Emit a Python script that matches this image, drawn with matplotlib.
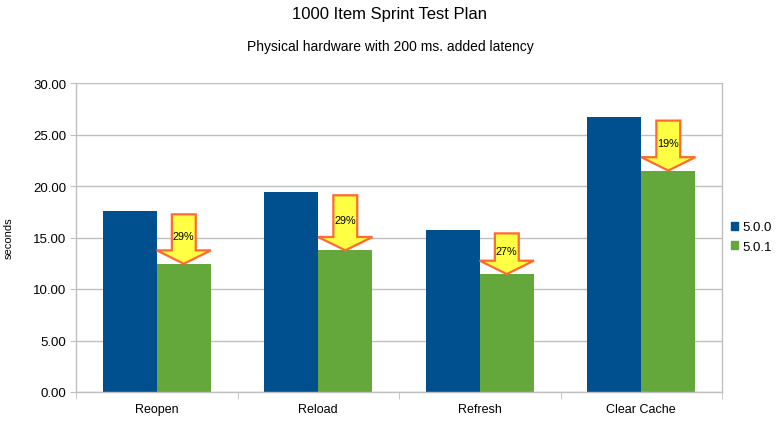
import matplotlib
matplotlib.use("Agg")
import matplotlib.pyplot as plt
from matplotlib.patches import Polygon, Patch
import numpy as np

categories = ["Reopen", "Reload", "Refresh", "Clear Cache"]
series_names = ["5.0.0", "5.0.1"]
v500 = [17.6, 19.45, 15.75, 26.7]
v501 = [12.45, 13.75, 11.45, 21.5]
pct_labels = ["29%", "29%", "27%", "19%"]
yticks = [0, 5, 10, 15, 20, 25, 30]

blue = "#004f8f"
green = "#64a83b"
grid = "#c0c0c0"

plt.rcParams['font.family'] = ['Liberation Sans', 'DejaVu Sans']

fig = plt.figure(figsize=(7.8, 4.27), dpi=100)
ax = fig.add_axes([76/780, 1-393/427, (722-76)/780, (393-84)/427])

x = np.arange(len(categories)) + 0.5
bw = 0.335
ax.bar(x - bw/2, v500, width=bw, color=blue, zorder=2, label=series_names[0])
ax.bar(x + bw/2, v501, width=bw, color=green, zorder=2, label=series_names[1])

# arrows
shaft_hw = 0.074
head_hw = 0.168
head_len = 1.3
for xi, top_v, tip_v, lab in zip(x, v500, v501, pct_labels):
    cx = xi + bw/2
    top = top_v - 0.35
    base = tip_v + head_len
    pts = [(cx - shaft_hw, top), (cx + shaft_hw, top), (cx + shaft_hw, base),
           (cx + head_hw, base), (cx, tip_v), (cx - head_hw, base),
           (cx - shaft_hw, base)]
    ax.add_patch(Polygon(pts, closed=True, facecolor="#ffff44",
                         edgecolor="#ff6a30", linewidth=1.6, zorder=3,
                         joinstyle="miter"))
    ax.text(cx, (top + base)/2 - 0.4, lab, ha="center", va="center",
            fontsize=7.8, color="black", zorder=4)

ax.set_xlim(0, len(categories))
ax.set_ylim(0, 30)
ax.set_yticks(yticks)
ax.set_yticklabels([f"{t:.2f}" for t in yticks], fontsize=9.5)
ax.set_xticks(x)
ax.set_xticklabels(categories, fontsize=9)
ax.set_xticks(np.arange(len(categories)+1), minor=True)
ax.tick_params(axis='x', which='major', length=0, pad=8)
ax.tick_params(axis='x', which='minor', length=5, color=grid, direction='out')
ax.tick_params(axis='y', length=4, color=grid, direction='out', pad=3)
ax.yaxis.grid(True, color=grid, linewidth=1, zorder=0)
ax.set_axisbelow(True)
for s in ['left', 'bottom', 'right']:
    ax.spines[s].set_color(grid)
    ax.spines[s].set_linewidth(1)
ax.spines['top'].set_visible(False)

ax.set_ylabel("seconds", fontsize=8, labelpad=14)

fig.text(0.5, 1-15/427, "1000 Item Sprint Test Plan", ha="center", va="center", fontsize=12)
fig.text(0.5, 1-47/427, "Physical hardware with 200 ms. added latency", ha="center", va="center", fontsize=10)

handles = [Patch(facecolor=blue, edgecolor=blue), Patch(facecolor=green, edgecolor=green)]
fig.legend(handles, series_names, loc="center left", bbox_to_anchor=(731/780, 1-238/427),
           frameon=False, fontsize=9.5, handlelength=0.55, handleheight=0.55,
           handletextpad=0.3, labelspacing=0.55, borderaxespad=0, borderpad=0)

fig.savefig("out.png", dpi=100)
